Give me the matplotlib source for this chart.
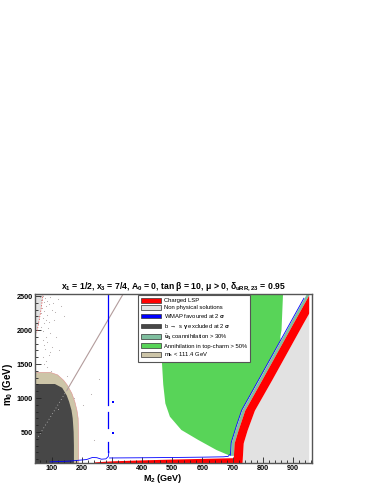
import numpy as np
import matplotlib
matplotlib.use("Agg")
import matplotlib.pyplot as plt
from matplotlib.patches import Patch
from matplotlib.ticker import MultipleLocator

plt.rcParams["font.family"] = ["Liberation Sans", "DejaVu Sans"]
plt.rcParams["mathtext.fontset"] = "custom"
plt.rcParams["mathtext.rm"] = "Liberation Sans:bold"
plt.rcParams["mathtext.it"] = "Liberation Sans:bold"
plt.rcParams["mathtext.bf"] = "Liberation Sans:bold"

# ----- data (M2, m0 in GeV) -----
x_max = 952
y_min, y_max = 44, 2530

# charged LSP band (left / right edges vs m0)
band_y = [44, 340, 530, 820, 1265, 1706, 2100, 2530]
band_xl = [701, 705, 718, 740, 796, 851, 900, 954]
band_xr = [731, 735, 748, 772, 829, 884, 933, 988]
coann_width = 10

# charged LSP strip along the bottom
strip_x = [240, 300, 400, 500, 600, 700]
strip_top = [60, 76, 90, 102, 112, 122]

# annihilation into top-charm region
green_left_x = [466, 464, 470, 477, 492, 530, 586, 646, 685]
green_left_y = [2530, 1650, 1200, 920, 726, 530, 383, 236, 162]
green_top_x = [858, 862, 867]
green_top_y = [1900, 2000, 2530]

# b -> s gamma excluded region
bsg_x = [45, 111, 135, 150, 158, 166, 170, 173, 174, 174]
bsg_y = [1206, 1206, 1150, 1040, 946, 820, 701, 500, 300, 44]

# m_h < 111.4 GeV region
mh_x = [45, 95, 120, 140, 152, 167, 177, 184, 188, 189, 190]
mh_y = [1378, 1378, 1340, 1260, 1190, 1070, 946, 820, 701, 500, 44]

# non physical corner top-left
np_x = [45, 72, 65, 57, 51, 45]
np_y = [2530, 2530, 2300, 2100, 1960, 1900]

# WMAP pieces
wmap_vx = 288
wmap_vsegs = [(900, 2530), (555, 790), (210, 357)]
wmap_b1_x = [95, 160, 216, 235, 250, 265, 280, 288, 290]
wmap_b1_y = [60, 72, 95, 125, 122, 100, 105, 140, 210]
wmap_b2_x = [292, 400, 500, 600, 670, 685, 690]
wmap_b2_y = [118, 121, 125, 130, 135, 142, 165]
wmap_dots_x = [304, 304]
wmap_dots_y = [946, 485]

# diagonal feature
diag_x = [56, 150, 337]
diag_y = [431, 1108, 2529]

# scan points
dots_x = [62, 66, 70, 74, 78, 82, 86, 90, 95, 100, 64, 68, 72, 76, 80, 85, 92, 104,
          112, 120, 66, 70, 75, 80, 88, 96, 108, 130, 70, 74, 78, 84, 94, 116, 140,
          72, 80, 90, 102, 125, 76, 86, 98, 150, 205, 232, 258, 120, 174, 240]
dots_y = [2480, 2440, 2500, 2410, 2470, 2350, 2430, 2380, 2490, 2300, 2250, 2320,
          2180, 2280, 2150, 2220, 2120, 2400, 2260, 2450, 2050, 1980, 2100, 1900,
          2030, 1950, 2150, 2350, 1850, 1780, 1720, 1820, 1680, 1900, 2200, 1600,
          1550, 1630, 1750, 1700, 1500, 1450, 1400, 1320, 900, 1060, 1280, 840,
          1000, 380]

labels = ["Charged LSP", "Non physical solutions", r"WMAP favoured at 2 $\sigma$",
          r"b $\rightarrow$ s $\gamma$ excluded at 2 $\sigma$",
          r"$\tilde{u}_1$ coannihilation > 30%", "Annihilation in top-charm > 50%",
          r"m$_h$ < 111.4 GeV"]
colors = ["#ff0000", "#e2e2e2", "#0000ff", "#474747", "#7fbf9f", "#58d458", "#cdc5a8"]
c_red, c_grey, c_blue, c_dark, c_teal, c_green, c_tan = colors

fig = plt.figure(figsize=(3.74, 4.84), dpi=100)
ax = fig.add_axes([35 / 374, 21 / 484, 277 / 374, 169 / 484])

yy = np.linspace(y_min, y_max, 200)
xl = np.interp(yy, band_y, band_xl)
xr = np.interp(yy, band_y, band_xr)

# non physical region right of the band
ax.fill_betweenx(yy, np.minimum(xr, x_max), x_max, color=c_grey, lw=0)
ax.fill(np_x, np_y, color=c_grey, lw=0)
ax.plot(np_x[1:5], np_y[1:5], color="#e04040", lw=0.5, ls=(0, (2, 2)))

# green region
gy = np.linspace(162, 1850, 60)
gx_right = np.interp(gy, band_y, band_xl) - coann_width
poly_x = list(green_left_x) + list(gx_right) + green_top_x
poly_y = list(green_left_y) + list(gy) + green_top_y
ax.fill(poly_x, poly_y, color=c_green, lw=0)

# coannihilation strip + charged LSP band
cy = yy[yy > 150]
ax.fill_betweenx(cy, np.interp(cy, band_y, band_xl) - coann_width,
                 np.minimum(np.interp(cy, band_y, band_xl), x_max), color=c_teal, lw=0)
ax.fill_betweenx(yy, np.minimum(xl, x_max), np.minimum(xr, x_max), color=c_red, lw=0)
ax.fill_between(strip_x, y_min, strip_top, color=c_red, lw=0)

# m_h and b->s gamma
ax.fill(mh_x + [45], mh_y + [44], facecolor=c_tan, edgecolor="#e09090", lw=0.4)
ax.fill(bsg_x + [45], bsg_y + [44], color=c_dark, lw=0)

# scan points and diagonal
ax.scatter(dots_x, dots_y, s=0.6, color="#b0a8a8", lw=0)
ax.plot(diag_x[1:], diag_y[1:], color="#b39c9c", lw=0.8)
ax.plot(diag_x[:2], diag_y[:2], color="#bdbdbd", lw=0.6, ls=(0, (1, 3)))

# WMAP
wy = cy[cy < 2480]
ax.plot(np.interp(wy, band_y, band_xl) - coann_width, wy, color=c_blue, lw=0.6)
for y0, y1 in wmap_vsegs:
    ax.plot([wmap_vx, wmap_vx], [y0, y1], color=c_blue, lw=0.9)
ax.plot(wmap_b1_x, wmap_b1_y, color=c_blue, lw=0.6)
ax.plot(wmap_b2_x, wmap_b2_y, color=c_blue, lw=0.6)
ax.scatter(wmap_dots_x, wmap_dots_y, s=1.5, color=c_blue, marker="s", lw=0)

ax.set_xlim(45, 963)
ax.set_ylim(y_min, y_max)
ax.xaxis.set_major_locator(MultipleLocator(100))
ax.xaxis.set_minor_locator(MultipleLocator(20))
ax.yaxis.set_major_locator(MultipleLocator(500))
ax.yaxis.set_minor_locator(MultipleLocator(100))
ax.tick_params(which="both", direction="in", top=False, right=False,
               labelsize=5.2, pad=1.5, width=0.6, color="#222222")
ax.tick_params(which="major", length=4)
ax.tick_params(which="minor", length=2)
for lab in ax.get_xticklabels() + ax.get_yticklabels():
    lab.set_fontweight("bold")
for sp in ax.spines.values():
    sp.set_color("#555555")
    sp.set_linewidth(1.0)

ax.set_xlabel(r"M$_2$ (GeV)", fontsize=6.5, fontweight="bold")
ax.set_ylabel(r"m$_0$ (GeV)", fontsize=7, fontweight="bold")
ax.xaxis.set_label_coords(0.462, -0.055)
ax.yaxis.set_label_coords(-0.074, 0.467)
ax.set_title(r"x$_1$ = 1/2, x$_3$ = 7/4, A$_0$ = 0, tan $\beta$ = 10, $\mu$ > 0, $\delta_{uRR,23}$ = 0.95",
             fontsize=6.2, fontweight="bold", pad=4)

handles = [Patch(facecolor=c, edgecolor="#333333", lw=0.5) for c in colors]
leg = ax.legend(handles, labels, loc="upper left", bbox_to_anchor=(0.372, 0.994),
                fontsize=4.2, handlelength=3.4, handleheight=0.85, handletextpad=0.5,
                labelspacing=0.3, borderpad=0.5, borderaxespad=0, fancybox=False,
                framealpha=1)
leg.get_frame().set_edgecolor("#555555")
leg.get_frame().set_linewidth(0.8)

fig.savefig("out.png", dpi=100)
